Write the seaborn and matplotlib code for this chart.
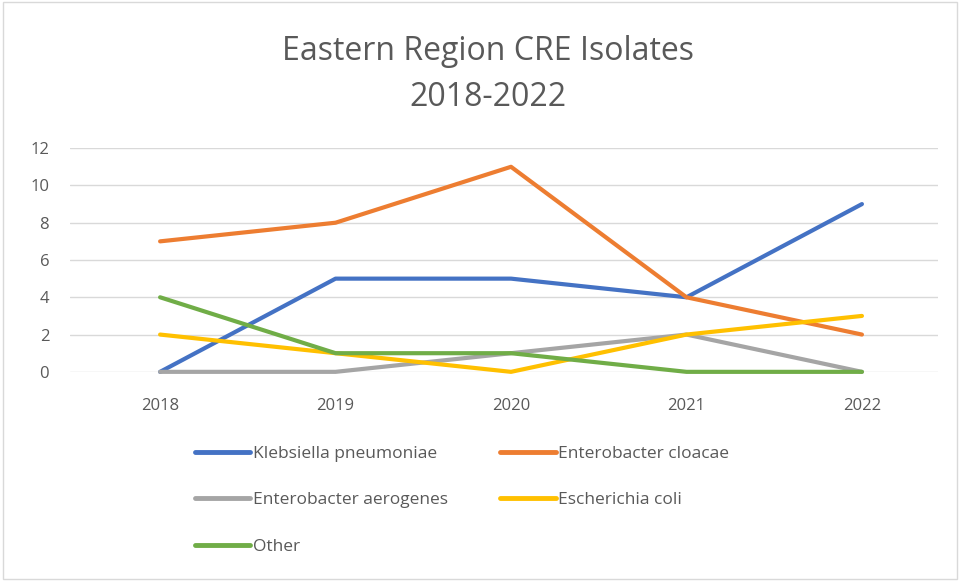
import pandas as pd
import matplotlib.pyplot as plt
import seaborn as sns
from matplotlib.patches import Rectangle

#chart data
years = ['2018', '2019', '2020', '2021', '2022']
klebsiella = [0, 5, 5, 4, 9]
cloacae = [7, 8, 11, 4, 2]
aerogenes = [0, 0, 1, 2, 0]
ecoli = [2, 1, 0, 2, 3]
other = [4, 1, 1, 0, 0]
series_names = ['Klebsiella pneumoniae', 'Enterobacter cloacae', 'Enterobacter aerogenes', 'Escherichia coli', 'Other']
colors = ['#4472C4', '#ED7D31', '#A5A5A5', '#FFC000', '#70AD47']

#long format for seaborn
df = pd.DataFrame({
    'year': years * 5,
    'count': klebsiella + cloacae + aerogenes + ecoli + other,
    'organism': [n for n in series_names for _ in years],
})
df['pos'] = df['year'].map({y: i for i, y in enumerate(years)})

sns.set_style('white')
plt.rcParams['font.family'] = ['Open Sans', 'DejaVu Sans']
text_color = '#595959'

fig = plt.figure(figsize=(9.6, 5.81), dpi=100)
ax = fig.add_axes([0.073, 0.36, 0.904, 0.385])

sns.lineplot(data=df, x='pos', y='count', hue='organism', hue_order=series_names,
             palette=colors, linewidth=3, ax=ax, legend=False, clip_on=False)
for line in ax.lines:
    line.set_solid_capstyle('round')

ax.set_xlim(-0.513, 4.433)
ax.set_ylim(0, 12)
ax.set_yticks(range(0, 13, 2))
ax.set_xticks(range(len(years)))
ax.set_xticklabels(years)
ax.grid(axis='y', color='#d9d9d9', linewidth=1)
ax.set_axisbelow(True)
for s in ax.spines.values():
    s.set_visible(False)
ax.tick_params(axis='both', length=0, labelsize=12, labelcolor=text_color)
ax.tick_params(axis='y', pad=15)
ax.tick_params(axis='x', pad=19)
ax.set_xlabel('')
ax.set_ylabel('')

fig.text(0.508, 0.872, 'Eastern Region CRE Isolates\n2018-2022', ha='center', va='center',
         fontsize=23, color=text_color, linespacing=1.5)

#legend in two columns, filled row by row like the original
order = [0, 2, 4, 1, 3]
handles = [plt.Line2D([], [], color=colors[i], linewidth=3.5, solid_capstyle='round') for i in order]
labels = [series_names[i] for i in order]
fig.legend(handles, labels, ncol=2, loc='center left', bbox_to_anchor=(0.203, 0.139),
           frameon=False, fontsize=12.5, labelcolor=text_color,
           handlelength=3.2, handletextpad=0.15, columnspacing=3.0, labelspacing=1.75, borderaxespad=0,
           borderpad=0)

fig.patches.append(Rectangle((0.003, 0.004), 0.994, 0.992, transform=fig.transFigure,
                             fill=False, edgecolor='#d9d9d9', linewidth=1))

plt.savefig('out.png', dpi=100)
plt.close()
